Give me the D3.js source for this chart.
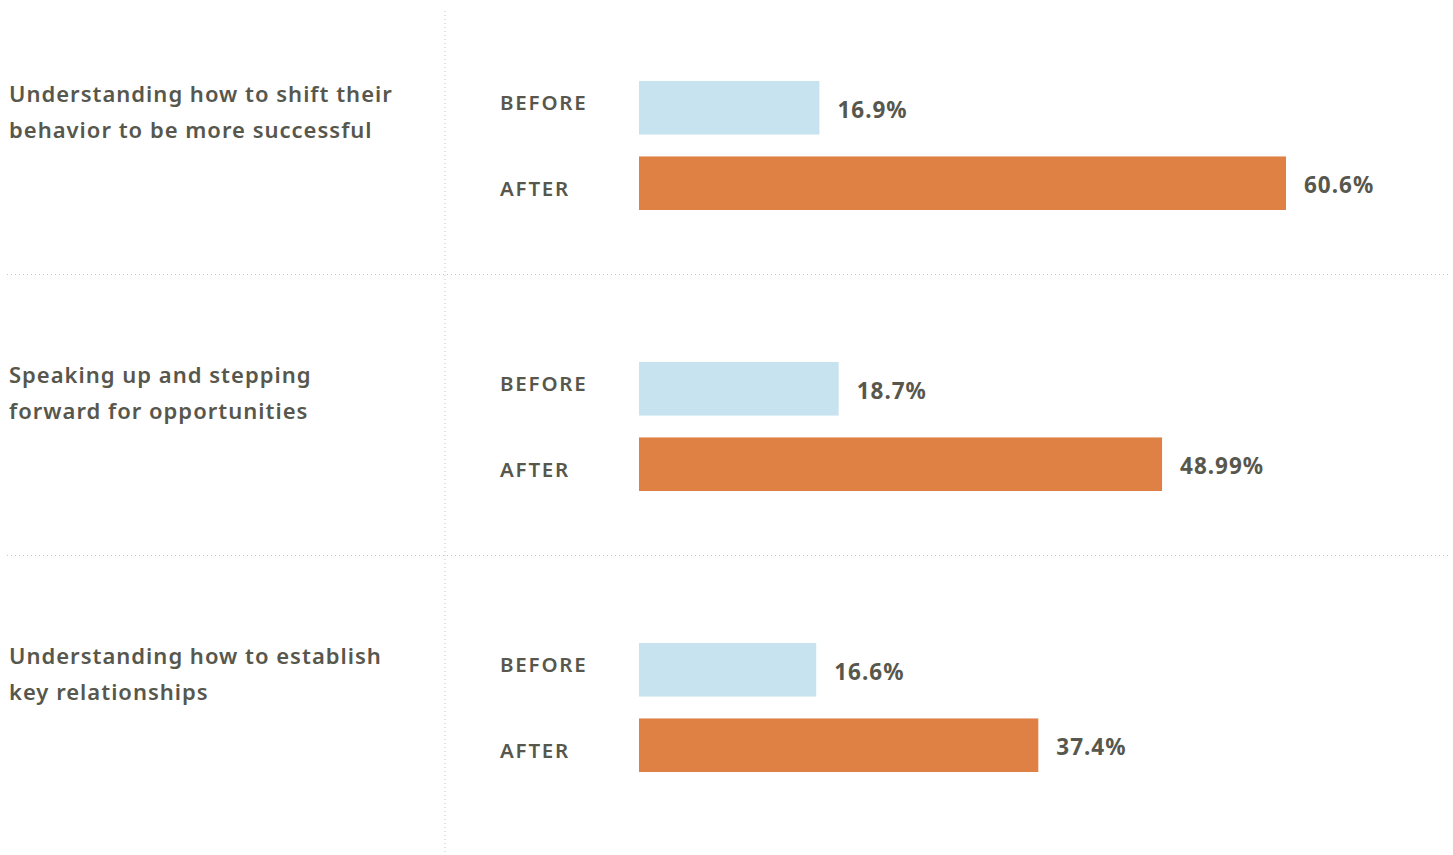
<!DOCTYPE html>
<html>
<head>
<meta charset="utf-8">
<script src="https://cdn.jsdelivr.net/npm/d3@7"></script>
<style>
  body { margin: 0; background: #fff; }
  text { font-family: 'Noto Sans', sans-serif; fill: #57574d; }
</style>
</head>
<body>
<script>
// chart data
var categories = [
	['Understanding how to shift their', 'behavior to be more successful'],
	['Speaking up and stepping', 'forward for opportunities'],
	['Understanding how to establish', 'key relationships']
];
var periods = ['BEFORE', 'AFTER'];
var beforeValues = [16.9, 18.7, 16.6];
var afterValues = [60.6, 48.99, 37.4];
var valueLabels = [['16.9%', '60.6%'], ['18.7%', '48.99%'], ['16.6%', '37.4%']];

var width = 1453,
	height = 855;

var svg = d3.select('body').append('svg')
	.attr('width', width)
	.attr('height', height);

var dataset = categories.map(function(c, i) {
	return {
		index: i,
		lines: c,
		values: [beforeValues[i], afterValues[i]],
		labels: valueLabels[i]
	};
});

// one row per category
var yScale = d3.scaleBand()
	.domain(d3.range(categories.length))
	.range([-7, 836]);

// before / after within a row
var innerScale = d3.scaleBand()
	.domain(periods)
	.range([88, 217])
	.paddingInner(0.29);

var barStart = 639;
var xScale = d3.scaleLinear()
	.domain([0, d3.max(afterValues)])
	.range([0, 647]);

var colors = d3.scaleOrdinal().domain(periods).range(['#c6e3ef', '#df8145']);

// dotted grid
svg.append('line')
	.attr('x1', 445).attr('x2', 445)
	.attr('y1', 11).attr('y2', height)
	.attr('stroke', '#c4c4c4')
	.attr('stroke-dasharray', '1,3');

svg.selectAll('.sep')
	.data(dataset.slice(1))
	.enter().append('line')
	.attr('class', 'sep')
	.attr('x1', 7).attr('x2', 1448)
	.attr('y1', function(d) { return yScale(d.index) + 0.5; })
	.attr('y2', function(d) { return yScale(d.index) + 0.5; })
	.attr('stroke', '#c4c4c4')
	.attr('stroke-dasharray', '1,3');

var rows = svg.selectAll('.row')
	.data(dataset)
	.enter().append('g')
	.attr('class', 'row')
	.attr('transform', function(d) { return 'translate(0,' + yScale(d.index) + ')'; });

// category text
rows.append('text')
	.attr('x', 9)
	.attr('y', innerScale('BEFORE') + 13)
	.style('font-size', '22px')
	.style('font-weight', 600)
	.style('letter-spacing', '1px')
	.selectAll('tspan')
	.data(function(d) { return d.lines; })
	.enter().append('tspan')
	.attr('x', 9)
	.attr('dy', function(d, i) { return i === 0 ? '0.35em' : '36px'; })
	.text(function(d) { return d; });

var bars = rows.selectAll('.bar')
	.data(function(d) {
		return periods.map(function(p, i) {
			return {period: p, value: d.values[i], label: d.labels[i]};
		});
	})
	.enter().append('g')
	.attr('class', 'bar');

bars.append('rect')
	.attr('x', barStart)
	.attr('y', function(d) { return innerScale(d.period); })
	.attr('width', function(d) { return xScale(d.value); })
	.attr('height', innerScale.bandwidth())
	.attr('fill', function(d) { return colors(d.period); });

// BEFORE / AFTER labels
bars.append('text')
	.attr('x', 500)
	.attr('y', function(d) {
		return innerScale(d.period) + innerScale.bandwidth() / 2 + (d.period === 'BEFORE' ? -5 : 6);
	})
	.attr('dy', '0.35em')
	.style('font-size', '20.5px')
	.style('font-weight', 600)
	.style('letter-spacing', '1.8px')
	.text(function(d) { return d.period; });

// value labels
bars.append('text')
	.attr('x', function(d) { return barStart + xScale(d.value) + 18; })
	.attr('y', function(d) { return innerScale(d.period) + innerScale.bandwidth() / 2 + 2; })
	.attr('dy', '0.35em')
	.style('font-size', '22.5px')
	.style('font-weight', 700)
	.style('letter-spacing', '1px')
	.text(function(d) { return d.label; });
</script>
</body>
</html>
